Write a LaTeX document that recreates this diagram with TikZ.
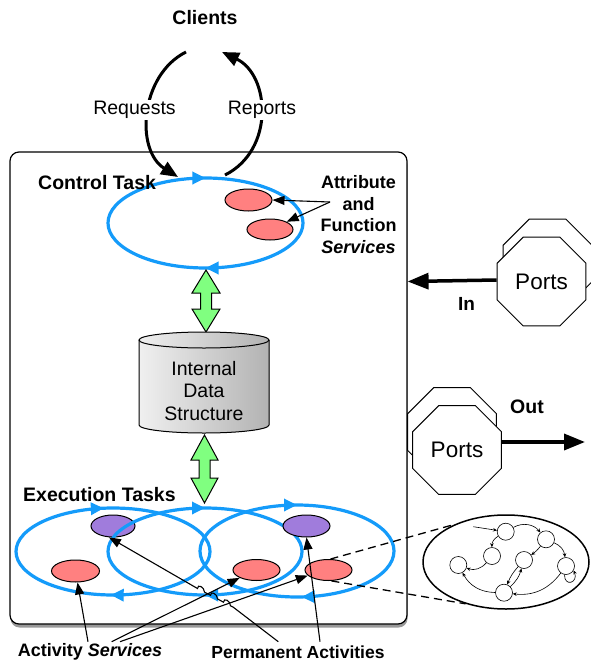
\documentclass[tikz,border=0pt]{standalone}
\usepackage{fontspec}
\setmainfont{Liberation Sans}
\usetikzlibrary{arrows.meta,shapes.geometric,decorations.markings,shadows,calc}
\definecolor{tblue}{RGB}{20,155,250}
\definecolor{blobred}{RGB}{255,128,128}
\definecolor{blobpurple}{RGB}{160,124,220}
\definecolor{dgreen}{RGB}{128,255,128}
\begin{document}
\begin{tikzpicture}[x=1pt,y=1pt,
  txt/.style={font=\fontsize{19.5pt}{23pt}\selectfont, inner sep=1pt},
  btxt/.style={font=\fontsize{19.5pt}{23pt}\selectfont\bfseries, inner sep=1pt},
  loopline/.style 2 args={draw=tblue, line width=3.2pt,
    decoration={markings,
      mark=at position #1 with {\arrowreversed[tblue]{Triangle[length=13pt,width=12pt]}},
      mark=at position #2 with {\arrowreversed[tblue]{Triangle[length=13pt,width=12pt]}}},
    postaction={decorate}},
  blob/.style={ellipse, draw, line width=1pt, inner sep=0pt},
  annot/.style={line width=1.1pt, -{Triangle[length=12pt,width=9pt]}},
  curvarr/.style={line width=3pt, -{Triangle[length=17pt,width=14pt]}},
  bigarr/.style={line width=3.5pt, -{Triangle[length=21pt,width=16pt]}},
  garrow/.style={draw, line width=1pt, fill=dgreen, line join=miter},
  port/.style={regular polygon, regular polygon sides=8, draw, fill=white, line width=1pt,
    minimum size=96pt, inner sep=0pt, font=\fontsize{22.5pt}{26pt}\selectfont},
  sgn/.style={circle, draw, line width=0.6pt, minimum size=17pt, inner sep=0pt, fill=white},
  sg/.style={line width=0.6pt, -{Stealth[length=4pt,width=3.5pt]}}
]
\useasboundingbox (0,0) rectangle (590,-664);
\fill[white] (0,0) rectangle (590,-664);

% main box
\node[draw, line width=1.2pt, rounded corners=9pt, fill=white, minimum width=397pt,
  minimum height=472pt, inner sep=0pt,
  drop shadow={shadow xshift=0.5pt, shadow yshift=-3.5pt, fill=black, opacity=0.4}] (box) at (208.5,-388) {};

% clients and curves
\node[btxt] (clients) at (205,-18) {Clients};
\coordinate (rqs) at (186,-52);
\coordinate (rqe) at (178,-177);
\coordinate (rps) at (225,-175);
\coordinate (rpe) at (222,-52);
\draw[curvarr] (rqs) .. controls (140,-75) and (135,-150) .. (rqe);
\draw[curvarr] (rps) .. controls (275,-150) and (270,-75) .. (rpe);
\node[txt, fill=white] (req) at (134.5,-110) {Requests};
\node[txt, fill=white] (rep) at (262,-110) {Reports};

% control task
\draw[loopline={0.25}{0.75}] (205.5,-223) ellipse (97.5 and 45);
\node[btxt, anchor=west] (ct) at (37,-183) {Control Task};
\node[blob, fill=blobred, minimum width=47pt, minimum height=22pt] (cr1) at (248.5,-200) {};
\node[blob, fill=blobred, minimum width=46pt, minimum height=21pt] (cr2) at (270,-229.5) {};
\node[align=center, font=\fontsize{18pt}{21.5pt}\selectfont\bfseries, inner sep=0pt] (attr) at (358.5,-214.5)
  {Attribute\\and\\Function\\\textit{Services}};
\coordinate (attrsrc) at (330,-202);
\draw[annot] (attrsrc) -- (cr1.east);
\draw[annot] (attrsrc) -- (cr2.25);

% green arrows and data structure
\coordinate (ga1) at (206,-270);
\draw[garrow] (ga1) -- ++(14,-23) -- ++(-8.5,0) -- ++(0,-16) -- ++(8.5,0) -- ++(-14,-23)
  -- ++(-14,23) -- ++(8.5,0) -- ++(0,16) -- ++(-8.5,0) -- cycle;
\coordinate (ga2) at (204.5,-435);
\draw[garrow] (ga2) -- ++(13.5,-25) -- ++(-8,0) -- ++(0,-18) -- ++(8,0) -- ++(-13.5,-25)
  -- ++(-13.5,25) -- ++(8,0) -- ++(0,18) -- ++(-8,0) -- cycle;
\fill[left color=gray!12, right color=gray!60] (139,-340) -- (139,-425)
  arc[start angle=180, end angle=360, x radius=65, y radius=8] -- (269,-340)
  arc[start angle=0, end angle=180, x radius=65, y radius=8] -- cycle;
\draw[line width=1pt] (139,-340) -- (139,-425)
  arc[start angle=180, end angle=360, x radius=65, y radius=8] -- (269,-340);
\draw[line width=1pt] (204,-340) ellipse (65 and 8);
\node[align=center, font=\fontsize{19.5pt}{22.5pt}\selectfont, inner sep=0pt] (ids) at (204,-391)
  {Internal\\Data\\Structure};

% execution tasks
\draw[loopline={0.27}{0.745}] (113,-551.5) ellipse (97 and 43.5);
\node[blob, fill=blobpurple, minimum width=44pt, minimum height=22pt] (pl) at (113,-526) {};
\node[blob, fill=blobred, minimum width=48pt, minimum height=22pt] (rl) at (75.5,-571) {};
\draw[loopline={0.25}{0.75}] (205,-551.5) ellipse (97 and 43.5);
\node[blob, fill=blobred, minimum width=47pt, minimum height=21pt] (rm) at (256.5,-570) {};
\draw[loopline={0.25}{0.76}] (297,-551) ellipse (97 and 46);
\node[blob, fill=blobpurple, minimum width=47pt, minimum height=22pt] (pr) at (306.5,-526) {};
\node[blob, fill=blobred, minimum width=47pt, minimum height=21pt] (rr) at (328.5,-570) {};
\node[btxt, anchor=west] (et) at (22,-495) {Execution Tasks};

% ports
\node[port] (pinb) at (547.5,-263.5) {};
\node[port] (pin) at (541.5,-281.5) {Ports};
\node[port] (poutb) at (452,-432) {};
\node[port] (pout) at (457,-450) {Ports};
\draw[bigarr] ([yshift=1.5pt]pin.west) -- (box.east |- pin.west);
\coordinate (outend) at (585,-442);
\draw[bigarr] (pout.east |- outend) -- (outend);
\node[font=\fontsize{19pt}{22pt}\selectfont\bfseries, inner sep=0pt] (inl) at (466.5,-304) {In};
\node[font=\fontsize{19.5pt}{22pt}\selectfont\bfseries, inner sep=0pt] (outl) at (527,-407) {Out};

% zoomed state machine
\node[ellipse, draw, line width=1.5pt, fill=white, minimum width=166pt, minimum height=94pt, inner sep=0pt] (ze) at (506,-562) {};
\draw[dashed, dash pattern=on 8pt off 5pt, line width=1.3pt] (rr.80) -- (ze.144);
\draw[dashed, dash pattern=on 8pt off 5pt, line width=1.3pt] (rr.-75) -- (ze.226);
\node[sgn] (n1) at (505.7,-531.7) {};
\node[sgn] (n2) at (546,-539.3) {};
\node[sgn] (n3) at (492,-556) {};
\node[sgn] (n4) at (524,-560) {};
\node[sgn] (n5) at (458.3,-565) {};
\node[sgn] (n6) at (566,-566) {};
\node[sgn] (n7) at (504,-592.7) {};
\coordinate (sgstart) at (473.3,-526.7);
\draw[sg] (sgstart) -- (n1);
\draw[sg] (n1) to[bend left=40] (n2);
\draw[sg] (n1) to[bend right=30] (n3);
\draw[sg] (n3) to[bend left=35] (n5);
\draw[sg] (n2) to[bend left=8] (n4);
\draw[sg] (n2) to[bend left=30] (n6);
\draw[sg] (n6.260) .. controls +(0,-13) and +(5,-12) .. (n6.330);
\draw[sg] (n6) to[bend left=30] (n7);
\draw[sg] (n7) to[bend left=30] (n5);
\draw[sg] (n4) to[bend right=10] (n7);
\draw[sg] (n7) to[bend right=15] (n4);

% bottom labels and annotation arrows
\node[font=\fontsize{18pt}{21pt}\selectfont\bfseries, inner sep=0pt] (asl) at (90,-652) {Activity \textit{Services}};
\node[font=\fontsize{17.5pt}{20pt}\selectfont\bfseries, inner sep=0pt] (pal) at (298,-652) {Permanent Activities};
\coordinate (as1) at (88,-641.7);
\coordinate (as2) at (111.7,-641.7);
\coordinate (as3) at (120,-641.7);
\coordinate (pa1) at (278.3,-641.7);
\coordinate (pa2) at (320,-641.7);
\draw[annot] (as1) -- (rl.280);
\draw[annot] (as2) -- (rm.205);
\draw[annot] (as3) -- (rr.195);
\draw[annot] (pa1) -- (233,-607) -- (230.5,-605.8) .. controls +(0,5) and +(0,5) .. (223.5,-602.2)
  -- (217.5,-598.9) .. controls +(0,5) and +(0,5) .. (210.5,-595.3)
  -- (204.5,-592.1) .. controls +(0,5) and +(0,5) .. (197.5,-588.5) -- (pl.250);
\draw[annot] (pa2) -- (pr.south);
\end{tikzpicture}
\end{document}
